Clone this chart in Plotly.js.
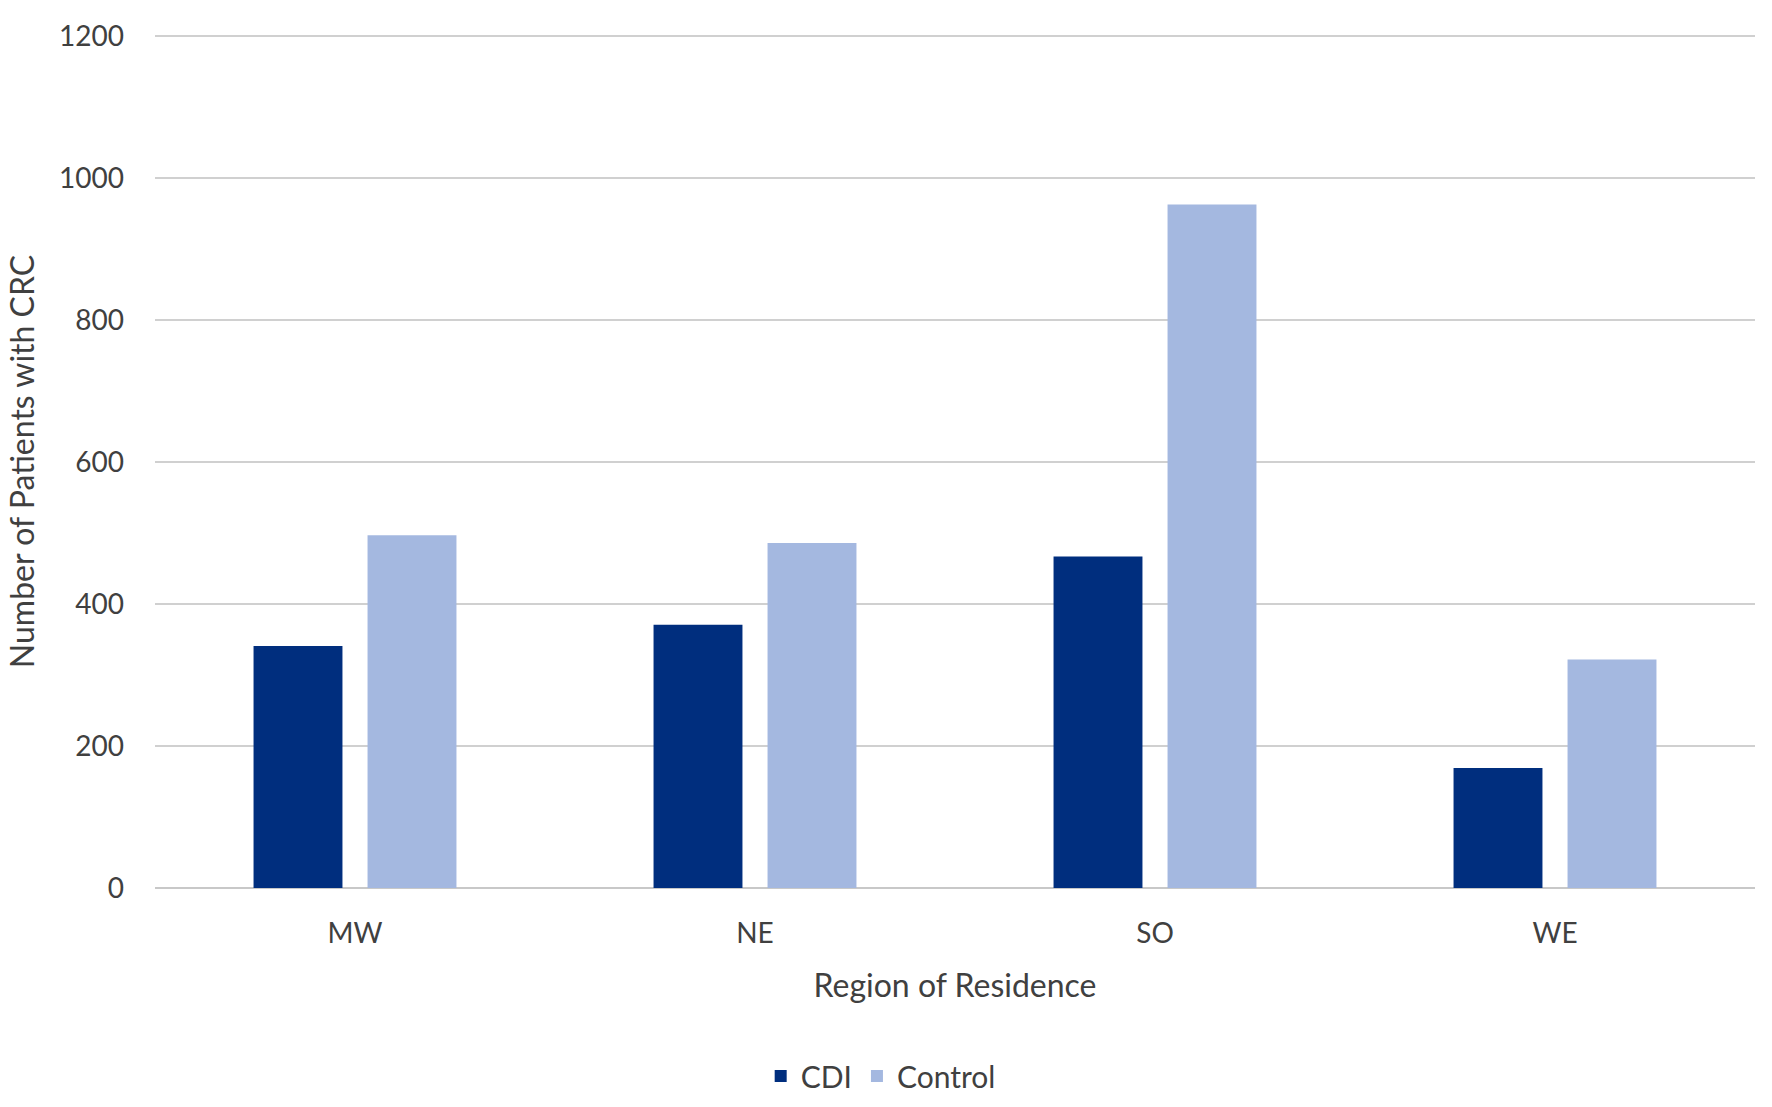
<!DOCTYPE html>
<html>
<head>
<meta charset="utf-8">
<script src="https://cdn.plot.ly/plotly-3.0.1.min.js"></script>
<style>html,body{margin:0;padding:0;background:#fff;}#chart{width:1772px;height:1107px;}</style>
</head>
<body>
<div id="chart"></div>
<script>
const categories = ["MW", "NE", "SO", "WE"];
const cdiValues = [341, 371, 467, 169];
const controlValues = [497, 486, 963, 322];
const yTickValues = [0, 200, 400, 600, 800, 1000, 1200];

const font = "Lato, 'Open Sans', sans-serif";
const traces = [
  {type: "bar", name: "CDI", x: categories, y: cdiValues, marker: {color: "#002E7E"}, hoverinfo: "x+y+name"},
  {type: "bar", name: "Control", x: categories, y: controlValues, marker: {color: "#A4B8E0"}, hoverinfo: "x+y+name"}
];

const layout = {
  width: 1772, height: 1107,
  paper_bgcolor: "#ffffff", plot_bgcolor: "#ffffff",
  margin: {l: 155, r: 17, t: 35, b: 219},
  barmode: "group",
  bargap: 0.43,
  bargroupgap: 0.22,
  font: {family: font, size: 28, color: "#404040"},
  xaxis: {
    showgrid: false, showline: false, zeroline: false,
    ticks: "", ticklabelstandoff: 26,
    tickfont: {size: 28, color: "#404040"},
    title: {text: "Region of Residence", font: {size: 32, color: "#404040"}, standoff: 26},
    automargin: false, fixedrange: true
  },
  yaxis: {
    range: [0, 1202], tickvals: yTickValues,
    showgrid: true, gridcolor: "#D0D0D0", gridwidth: 2,
    zeroline: true, zerolinecolor: "#C8C8C8", zerolinewidth: 2,
    showline: false, ticks: "", ticklabelstandoff: 30,
    tickfont: {size: 28, color: "#404040"},
    title: {text: "Number of Patients with CRC", font: {size: 32, color: "#404040"}, standoff: 14},
    automargin: false, fixedrange: true
  },
  showlegend: true,
  legend: {
    orientation: "h", xref: "container", yref: "container",
    x: 0.497, xanchor: "center", y: 0.028, yanchor: "middle",
    font: {size: 30, color: "#404040"},
    itemwidth: 30, tracegroupgap: 0
  }
};

Plotly.newPlot("chart", traces, layout, {displayModeBar: false, staticPlot: true});
</script>
</body>
</html>
